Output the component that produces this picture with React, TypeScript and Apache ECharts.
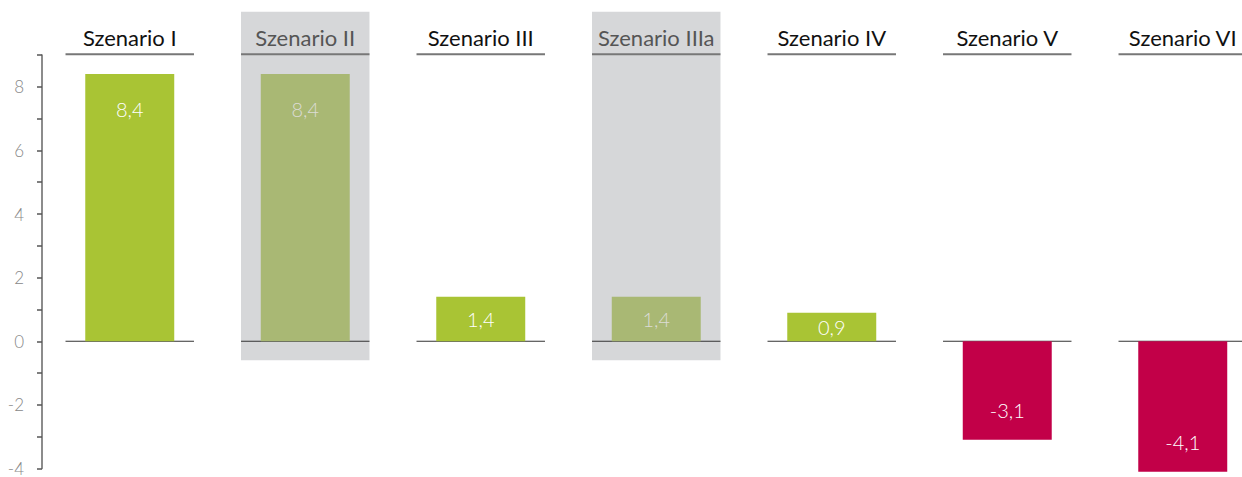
import React, { useEffect, useRef } from "react";
import * as echarts from "echarts";

const categories = ["Szenario I", "Szenario II", "Szenario III", "Szenario IIIa", "Szenario IV", "Szenario V", "Szenario VI"];
const values = [8.4, 8.4, 1.4, 1.4, 0.9, -3.1, -4.1];
const greyed = [false, true, false, true, false, false, false];

// y-axis scale
const Y_MIN = -4;
const Y_MAX = 9;
const Y_INTERVAL = 1;

// decoration levels (in axis units)
const BG_TOP = 10.36;
const BG_BOTTOM = -0.6;
const HEADER_LINE = 9.02;
const HEADER_TEXT = 9.55;

const GREEN = "#a9c434";
const GREEN_MUTED = "#a9b874";
const RED = "#c20048";
const BG_GREY = "#d6d7d9";
const FONT = "Lato, 'Noto Sans', sans-serif";

const BAND = 175.5;
const CHART_W = 42 + BAND * categories.length + 10;

export default function App() {
  const ref = useRef<HTMLDivElement>(null);
  useEffect(() => {
    if (!ref.current) return;
    const chart = echarts.init(ref.current, undefined, { renderer: "svg" });

    const fmt = (v: number) => v.toFixed(1).replace(".", ",");

    const barData = values.map((v, i) => {
      const g = greyed[i];
      let position: any = "insideTop";
      let distance = 25;
      if (v < 0) {
        position = "insideBottom";
        distance = 20;
      } else if (v <= 2) {
        position = "inside";
        distance = 0;
      }
      return {
        value: v,
        itemStyle: { color: v < 0 ? RED : g ? GREEN_MUTED : GREEN },
        label: {
          show: true,
          position,
          distance,
          formatter: () => fmt(v),
          color: g ? "#dcdcd6" : "#ffffff",
          fontSize: 20,
          fontFamily: FONT,
          fontWeight: 300,
        },
      };
    });

    const bgData = categories.map((_, i) => [i, greyed[i] ? 1 : 0]);

    chart.setOption({
      animation: false,
      grid: { left: 42, top: 55, width: BAND * categories.length, height: 416 },
      xAxis: {
        type: "category",
        data: categories,
        axisLine: { show: false },
        axisTick: { show: false },
        axisLabel: { show: false },
        splitLine: { show: false },
      },
      yAxis: {
        type: "value",
        min: Y_MIN,
        max: Y_MAX,
        interval: Y_INTERVAL,
        axisLine: { show: true, lineStyle: { color: "#666", width: 1.5 } },
        axisTick: { show: true, length: 5, lineStyle: { color: "#555", width: 1.5 } },
        axisLabel: {
          formatter: (v: number) => (v % 2 === 0 ? String(v) : ""),
          color: "#888",
          fontSize: 17,
          fontFamily: FONT,
          fontWeight: 300,
          margin: 18,
        },
        splitLine: { show: false },
      },
      series: [
        {
          type: "custom",
          z: 1,
          clip: false,
          silent: true,
          data: bgData,
          encode: { x: 0, y: 1 },
          renderItem: (params: any, api: any) => {
            const idx = api.value(0);
            const g = api.value(1) === 1;
            const [cx, yZero] = api.coord([idx, 0]);
            const band = api.size([1, 0])[0];
            const half = band * 0.366;
            const yTop = api.coord([idx, BG_TOP])[1];
            const yBot = api.coord([idx, BG_BOTTOM])[1];
            const yHead = api.coord([idx, HEADER_LINE])[1];
            const yText = api.coord([idx, HEADER_TEXT])[1];
            const children: any[] = [];
            if (g) {
              children.push({
                type: "rect",
                shape: { x: cx - half, y: yTop, width: half * 2, height: yBot - yTop },
                style: { fill: BG_GREY },
              });
            }
            children.push({
              type: "line",
              shape: { x1: cx - half, y1: yHead, x2: cx + half, y2: yHead },
              style: { stroke: "#777", lineWidth: 2 },
            });
            children.push({
              type: "line",
              shape: { x1: cx - half, y1: yZero, x2: cx + half, y2: yZero },
              style: { stroke: "#333", lineWidth: 1.2 },
            });
            children.push({
              type: "text",
              x: cx,
              y: yText,
              style: {
                text: categories[idx],
                align: "center",
                verticalAlign: "middle",
                fill: g ? "#555" : "#111",
                fontSize: 22,
                fontFamily: FONT,
                fontWeight: "normal",
              },
            });
            return { type: "group", children };
          },
        },
        {
          type: "bar",
          z: 2,
          clip: false,
          barWidth: "50.7%",
          data: barData,
        },
      ],
    });
    return () => chart.dispose();
  }, []);
  return (
    <div
      style={{ position: "fixed", left: 0, top: 0, width: 1242, height: 477, overflow: "hidden", background: "#fff" }}
    >
      <div ref={ref} style={{ width: CHART_W, height: 477 }} />
    </div>
  );
}
